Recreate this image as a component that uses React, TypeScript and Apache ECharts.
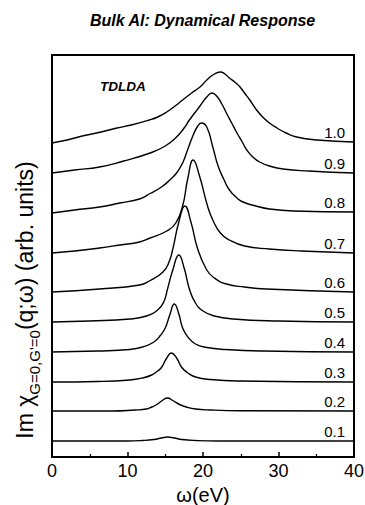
import React, { useEffect, useRef } from "react";
import * as echarts from "echarts";

// q values (labels on the right of each curve)
const qLabels = ["0.1", "0.2", "0.3", "0.4", "0.5", "0.6", "0.7", "0.8", "0.9", "1.0"];
// vertical offset (baseline) of each curve in arbitrary units
const baselines = [16, 46, 75, 105, 135, 165, 204, 244, 284, 314];
const xTicks = [0, 10, 20, 30, 40];

// [omega (eV), Im chi above its baseline]
const curveQ01 = [[0, 0], [10, 0], [12, 0.5], [13.5, 1.5], [14.5, 3], [15.3, 4], [16.2, 3], [17.2, 1.5], [19, 0.5], [22, 0], [40, 0]];
const curveQ02 = [[0, 0], [8, 0], [11, 1], [12.5, 2], [13.2, 4], [13.9, 6.5], [14.6, 10.5], [15.3, 13], [16.0, 10.5], [16.9, 6.5], [17.8, 4], [19, 2], [21, 1], [25, 0.3], [40, 0]];
const curveQ03 = [[0, 0], [6, 0.5], [10.3, 2], [12, 4], [13.2, 7], [14.0, 11], [14.5, 14.5], [15.2, 24], [15.8, 29], [16.5, 24], [17.2, 14.5], [18, 9], [19, 5], [21, 2.5], [25, 1], [40, 0]];
const curveQ04 = [[0, 0], [6, 1], [10.3, 2.5], [12, 5], [13.5, 10], [14.4, 17], [15.0, 24], [15.6, 37], [16.2, 48], [16.8, 38], [17.3, 24], [18, 15], [19, 8], [20.5, 4.5], [23, 2.5], [28, 1], [40, 0]];
const curveQ05 = [[0, 0], [5, 1], [10.3, 3], [12.5, 6], [14, 12], [14.8, 20], [15.3, 33], [16, 52], [16.8, 67], [17.5, 54], [18.2, 33], [19, 19], [20, 11], [21.5, 6], [24, 3], [30, 1], [40, 0]];
const curveQ06 = [[0, 0], [6.3, 3], [11.6, 7], [12.9, 11], [14.7, 20], [15.5, 30], [16.0, 43], [16.8, 70], [17.6, 86], [18.4, 70], [19.3, 43], [20.5, 22], [21.5, 14], [23.1, 8], [25.5, 5], [28.4, 3], [40, 0]];
const curveQ07 = [[0, 0], [3, 2], [6.3, 5], [9, 8], [11.6, 11], [13, 15], [15.2, 22], [16.4, 30], [17.3, 47], [18.0, 75], [18.7, 93], [19.5, 78], [20.6, 47], [21.3, 33], [22.3, 20], [23.5, 13], [25.5, 7], [28.8, 4], [33, 2], [40, 0]];
const curveQ08 = [[0, 0], [3, 3], [6.3, 6], [9, 10], [11.6, 14], [13, 19.5], [14.5, 26], [15.6, 33], [16.5, 40], [17.3, 50], [18.0, 64], [18.6, 76], [19.3, 87], [19.8, 90], [20.5, 86], [21.3, 66], [22.0, 47], [22.8, 33], [23.5, 23], [24.5, 15], [25.3, 11], [27, 7], [28.8, 4], [32, 2], [40, 1]];
const curveQ09 = [[0, 0], [3, 3], [6.3, 6], [9.5, 12], [13, 20], [15, 27], [16.5, 36], [17.5, 45], [18.2, 53], [19.0, 61], [19.6, 67], [20.5, 76], [21.2, 80], [21.8, 77], [22.5, 69], [23.1, 60], [23.8, 50], [24.5, 40], [25.2, 31], [25.8, 23], [26.6, 16], [27.5, 11], [28.8, 7], [30.6, 4], [34, 2], [40, 0]];
const curveQ10 = [[0, 0], [2, 3], [4, 7], [6.5, 11], [8.6, 15], [10.5, 18], [12.9, 23], [14, 26], [15.2, 31], [16.3, 37], [17.3, 43], [18.5, 50], [19.6, 56], [20.5, 63], [21.3, 68], [22.3, 71], [22.9, 69], [23.5, 65], [24.2, 61], [24.9, 56], [25.5, 50], [26.2, 43], [27, 34], [27.9, 26], [28.8, 20], [29.8, 15], [31, 10], [32.4, 6], [35.1, 3], [40, 1]];

const curves = [curveQ01, curveQ02, curveQ03, curveQ04, curveQ05, curveQ06, curveQ07, curveQ08, curveQ09, curveQ10];

const FONT = "Liberation Sans, Arial, Helvetica, sans-serif";

export default function App() {
  const ref = useRef<HTMLDivElement>(null);

  useEffect(() => {
    if (!ref.current) return;
    const chart = echarts.init(ref.current, null, { renderer: "svg" });

    const series = curves.map((c, i) => ({
      type: "line",
      name: qLabels[i],
      data: c.map(([w, h]) => [w, baselines[i] + h]),
      showSymbol: false,
      symbol: "none",
      smooth: 0.5,
      lineStyle: { color: "#000", width: 1.4, join: "round" },
      silent: true,
      endLabel: {
        show: true,
        formatter: () => qLabels[i],
        color: "#000",
        fontFamily: FONT,
        fontSize: 15,
        align: "right",
        verticalAlign: "bottom",
        distance: 0,
        offset: [-9, -2],
      },
    }));

    chart.setOption({
      animation: false,
      backgroundColor: "#fff",
      title: [
        {
          text: "Bulk Al: Dynamical Response",
          left: 85,
          top: 7,
          textStyle: { fontFamily: FONT, fontSize: 16, fontWeight: "bold", fontStyle: "italic", color: "#000" },
        },
        {
          text: "TDLDA",
          left: 95,
          top: 74,
          textStyle: { fontFamily: FONT, fontSize: 13.5, fontWeight: "bold", fontStyle: "italic", color: "#000" },
        },
      ],
      grid: {
        left: 52,
        right: 11,
        top: 55,
        bottom: 48,
        containLabel: false,
        outerBoundsMode: "none",
        show: true,
        borderColor: "#000",
        borderWidth: 2,
        backgroundColor: "transparent",
      },
      xAxis: {
        type: "value",
        min: xTicks[0],
        max: xTicks[xTicks.length - 1],
        interval: 10,
        name: "ω(eV)",
        nameLocation: "middle",
        nameGap: 25,
        nameTextStyle: { fontFamily: FONT, fontSize: 20, color: "#000" },
        axisLine: { show: true, lineStyle: { color: "#000", width: 2 } },
        axisTick: { show: true, inside: true, length: 5, lineStyle: { color: "#000", width: 1.5 } },
        minorTick: { show: true, splitNumber: 2, length: 3, lineStyle: { color: "#000", width: 1.2 } },
        axisLabel: { color: "#000", fontFamily: FONT, fontSize: 18, margin: 5 },
        splitLine: { show: false },
        minorSplitLine: { show: false },
      },
      yAxis: {
        type: "value",
        min: 0,
        max: 402,
        name: "{m|Im χ}{s|G=0,G'=0}{m|(q;ω) (arb. units)}",
        nameLocation: "middle",
        nameRotate: 90,
        nameGap: 10,
        nameTextStyle: {
          color: "#000",
          fontFamily: FONT,
          padding: [0, 88, 0, 0],
          rich: {
            m: { fontFamily: FONT, fontSize: 23, lineHeight: 34, color: "#000" },
            s: { fontFamily: FONT, fontSize: 15, lineHeight: 16, verticalAlign: "bottom", color: "#000" },
          },
        },
        axisLine: { show: true, lineStyle: { color: "#000", width: 2 } },
        axisTick: { show: false },
        axisLabel: { show: false },
        splitLine: { show: false },
      },
      series,
    });

    return () => chart.dispose();
  }, []);

  return (
    <div
      ref={ref}
      style={{ position: "fixed", left: 0, top: 0, width: 365, height: 505, background: "#fff" }}
    />
  );
}
